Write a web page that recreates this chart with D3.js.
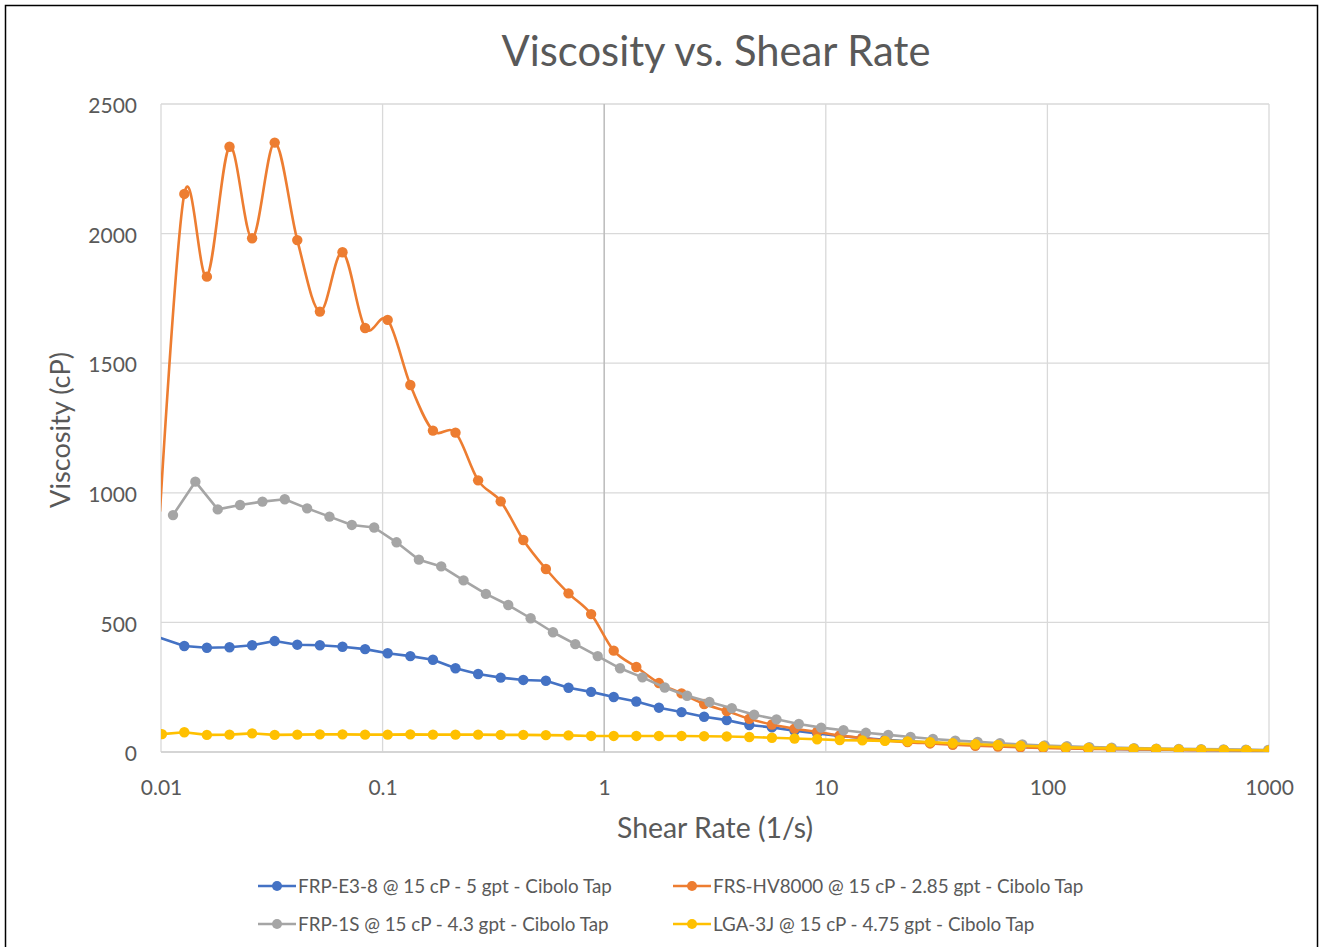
<!DOCTYPE html>
<html><head><meta charset="utf-8">
<script src="https://cdn.jsdelivr.net/npm/d3@7"></script>
<style>
html,body{margin:0;padding:0;background:#fff;}
svg text{font-family:Lato,"Open Sans",sans-serif;fill:#595959;}
</style></head>
<body><svg id="chart" width="1325" height="947"></svg>
<script>
// ---- data ----
const title = "Viscosity vs. Shear Rate";
const xTitle = "Shear Rate (1/s)";
const yTitle = "Viscosity (cP)";
const xTicks = [0.01, 0.1, 1, 10, 100, 1000];
const xTickLabels = ["0.01", "0.1", "1", "10", "100", "1000"];
const yTicks = [0, 500, 1000, 1500, 2000, 2500];
const seriesNames = [
  "FRP-E3-8 @ 15 cP - 5 gpt - Cibolo Tap",
  "FRS-HV8000 @ 15 cP - 2.85 gpt - Cibolo Tap",
  "FRP-1S @ 15 cP - 4.3 gpt - Cibolo Tap",
  "LGA-3J @ 15 cP - 4.75 gpt - Cibolo Tap"
];
const seriesColors = ["#4472C4", "#ED7D31", "#A5A5A5", "#FFC000"];

const shearRateA = [0.0099, 0.01274, 0.01611, 0.02038, 0.02577, 0.03259, 0.04121, 0.05212, 0.06592, 0.08337,
  0.1054, 0.1334, 0.1687, 0.2133, 0.2698, 0.3412, 0.4314, 0.5456, 0.6901, 0.8728,
  1.104, 1.396, 1.766, 2.233, 2.824, 3.572, 4.517, 5.713, 7.225, 9.139,
  11.56, 14.62, 18.49, 23.38, 29.57, 37.40, 47.30, 59.82, 75.64, 95.66,
  121.0, 153.0, 193.5, 244.7, 309.5, 391.4, 495.0, 626.0, 791.6, 1000];
const shearRateY = [0.0101, 0.01274, 0.01611, 0.02038, 0.02577, 0.03259, 0.04121, 0.05212, 0.06592, 0.08337,
  0.1054, 0.1334, 0.1687, 0.2133, 0.2698, 0.3412, 0.4314, 0.5456, 0.6901, 0.8728,
  1.104, 1.396, 1.766, 2.233, 2.824, 3.572, 4.517, 5.713, 7.225, 9.139,
  11.56, 14.62, 18.49, 23.38, 29.57, 37.40, 47.30, 59.82, 75.64, 95.66,
  121.0, 153.0, 193.5, 244.7, 309.5, 391.4, 495.0, 626.0, 791.6, 1000];
const shearRateG = [0.01133, 0.01429, 0.01803, 0.02274, 0.02869, 0.03618, 0.04565, 0.05757, 0.07262, 0.09160,
  0.1156, 0.1458, 0.1839, 0.2319, 0.2925, 0.3690, 0.4656, 0.5872, 0.7407, 0.9344,
  1.179, 1.487, 1.876, 2.366, 2.985, 3.765, 4.750, 5.991, 7.556, 9.530,
  12.02, 15.17, 19.13, 24.13, 30.44, 38.39, 48.43, 61.09, 77.07, 97.21,
  122.6, 154.7, 195.1, 246.1, 310.5, 391.6, 494.0, 623.2, 786.1, 991.6];

const viscBlue = [441, 409, 402, 404, 412, 428, 414, 412, 406, 397,
  381, 370, 356, 323, 301, 287, 278, 275, 248, 232,
  212, 195, 171, 154, 136, 123, 104, 95, 82, 72,
  62, 54, 47, 41, 36, 31, 27, 24, 21, 18,
  16, 14, 12, 11, 10, 9, 8, 7, 6, 6];
const viscOrange = [930, 2153, 1834, 2335, 1982, 2351, 1975, 1699, 1928, 1636,
  1667, 1416, 1240, 1232, 1048, 967, 818, 706, 612, 532,
  391, 328, 266, 226, 185, 158, 128, 106, 90, 78,
  64, 54, 45, 38, 33, 28, 24, 21, 18, 16,
  14, 12, 11, 10, 9, 8, 7, 7, 6, 6];
const viscGray = [914, 1043, 936, 953, 966, 975, 940, 908, 876, 866,
  809, 742, 716, 662, 610, 567, 516, 462, 416, 370,
  323, 288, 249, 217, 193, 169, 144, 126, 108, 94,
  84, 74, 66, 58, 50, 44, 39, 34, 29, 25,
  22, 19, 17, 15, 13, 12, 11, 10, 9, 8];
const viscYellow = [69, 76, 66, 67, 72, 66, 67, 68, 68, 67,
  67, 68, 67, 67, 67, 66, 66, 65, 64, 62,
  62, 62, 62, 62, 61, 60, 58, 55, 52, 49,
  46, 45, 43, 41, 38, 34, 30, 27, 24, 21,
  18, 16, 14, 13, 12, 10, 9, 8, 7, 6];

const seriesX = [shearRateA, shearRateA, shearRateG, shearRateY];
const seriesY = [viscBlue, viscOrange, viscGray, viscYellow];
const seriesSmooth = [false, true, false, false];

// ---- layout ----
const svg = d3.select("#chart");
const L = 161, R = 1269, T = 104, B = 752;
const x = d3.scaleLog().domain([0.01, 1000]).range([L, R]);
const y = d3.scaleLinear().domain([0, 2500]).range([B, T]);

function fitFont(sel, target, start) {
  sel.style("font-size", start + "px");
  const w = sel.node().getComputedTextLength();
  const fs = start * target / w;
  sel.style("font-size", fs + "px");
  return fs;
}

// outer border
svg.append("rect").attr("x", 5.5).attr("y", 5.5).attr("width", 1312).attr("height", 960)
  .attr("fill", "none").attr("stroke", "#000").attr("stroke-width", 1.5);

// gridlines
const grid = svg.append("g");
grid.selectAll("line.h").data(yTicks).join("line")
  .attr("x1", L).attr("x2", R).attr("y1", d => y(d)).attr("y2", d => y(d))
  .attr("stroke", "#d9d9d9").attr("stroke-width", 1.3);
grid.selectAll("line.v").data(xTicks).join("line")
  .attr("y1", T).attr("y2", B).attr("x1", d => x(d)).attr("x2", d => x(d))
  .attr("stroke", d => d === 1 ? "#bfbfbf" : "#d9d9d9").attr("stroke-width", d => d === 1 ? 1.6 : 1.3);
svg.append("line").attr("x1", L).attr("x2", R).attr("y1", B).attr("y2", B)
  .attr("stroke", "#d0d0d0").attr("stroke-width", 1.5);

// axes (labels via d3 axes)
const yAxis = svg.append("g").attr("transform", `translate(${L},2)`)
  .call(d3.axisLeft(y).tickValues(yTicks).tickSize(0).tickPadding(24).tickFormat(d3.format("d")));
yAxis.select(".domain").remove();
yAxis.selectAll("text").style("font-size", "21px").attr("fill", "#595959");

const xAxis = svg.append("g").attr("transform", `translate(0,${B})`)
  .call(d3.axisBottom(x).tickValues(xTicks).tickSize(0).tickPadding(28)
    .tickFormat((d, i) => xTickLabels[i]));
xAxis.select(".domain").remove();
xAxis.selectAll("text").style("font-size", "21px").attr("fill", "#595959");

// clip
svg.append("defs").append("clipPath").attr("id", "plotclip")
  .append("rect").attr("x", L).attr("y", T - 20).attr("width", R - L).attr("height", B - T + 20);

// series
const plot = svg.append("g").attr("clip-path", "url(#plotclip)");
seriesY.forEach((vals, si) => {
  const pts = vals.map((v, i) => [seriesX[si][i], v]);
  const line = d3.line().x(d => x(d[0])).y(d => y(d[1]))
    .curve(seriesSmooth[si] ? d3.curveCatmullRom.alpha(0) : d3.curveLinear);
  plot.append("path").datum(pts).attr("d", line)
    .attr("fill", "none").attr("stroke", seriesColors[si]).attr("stroke-width", 2.6)
    .attr("stroke-linejoin", "round").attr("stroke-linecap", "round");
  plot.append("g").selectAll("circle")
    .data(pts.filter(d => d[0] >= 0.01 && d[0] <= 1000)).join("circle")
    .attr("cx", d => x(d[0])).attr("cy", d => y(d[1])).attr("r", 5.2)
    .attr("fill", seriesColors[si]);
});

// title
const t = svg.append("text").attr("x", 716).attr("y", 66).attr("text-anchor", "middle").text(title);
fitFont(t, 429, 37);

// axis titles
const xt = svg.append("text").attr("x", 715).attr("y", 838).attr("text-anchor", "middle").text(xTitle);
fitFont(xt, 196, 24);
const yt = svg.append("text").attr("transform", "translate(70,430) rotate(-90)")
  .attr("text-anchor", "middle").text(yTitle);
fitFont(yt, 156, 24);

// legend
const legendPos = [[258, 886], [673, 886], [258, 924], [673, 924]];
const lg = svg.append("g");
let legendFs = null;
seriesNames.forEach((name, i) => {
  const [lx, ly] = legendPos[i];
  lg.append("line").attr("x1", lx).attr("x2", lx + 38).attr("y1", ly).attr("y2", ly)
    .attr("stroke", seriesColors[i]).attr("stroke-width", 2.6);
  lg.append("circle").attr("cx", lx + 19).attr("cy", ly).attr("r", 5).attr("fill", seriesColors[i]);
  const tx = lg.append("text").attr("x", lx + 40).attr("y", ly + 6.5).text(name);
  if (i === 0) legendFs = fitFont(tx, 314, 18);
  else tx.style("font-size", legendFs + "px");
});
</script></body></html>
